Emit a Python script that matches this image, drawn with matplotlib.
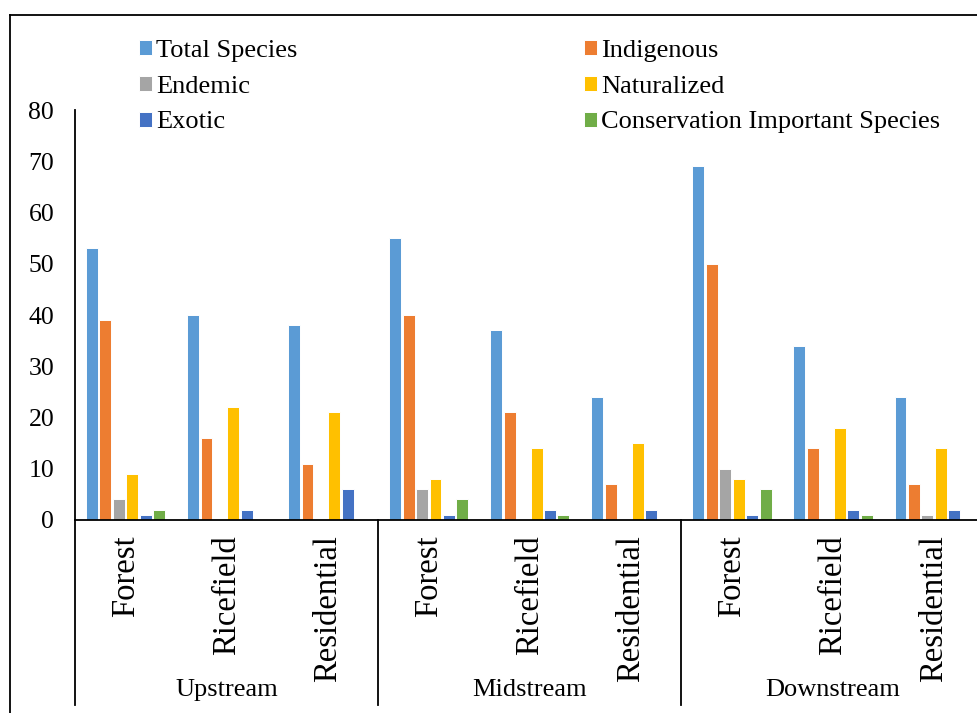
import numpy as np
import matplotlib.pyplot as plt
from matplotlib.lines import Line2D

plt.rcParams['font.family'] = ['Liberation Serif', 'DejaVu Serif']

sites = ['Upstream', 'Midstream', 'Downstream']
habitats = ['Forest', 'Ricefield', 'Residential']
series = ['Total Species', 'Indigenous', 'Endemic', 'Naturalized',
          'Exotic', 'Conservation Important Species']
colors = ['#5B9BD5', '#ED7D31', '#A5A5A5', '#FFC000', '#4472C4', '#70AD47']

# one list per series, order: Up F/R/Res, Mid F/R/Res, Down F/R/Res
total = [53, 40, 38, 55, 37, 24, 69, 34, 24]
indigenous = [39, 16, 11, 40, 21, 7, 50, 14, 7]
endemic = [4, 0, 0, 6, 0, 0, 10, 0, 1]
naturalized = [9, 22, 21, 8, 14, 15, 8, 18, 14]
exotic = [1, 2, 6, 1, 2, 2, 1, 2, 2]
conservation = [2, 0, 0, 4, 1, 0, 6, 1, 0]
values = [total, indigenous, endemic, naturalized, exotic, conservation]

fig = plt.figure(figsize=(9.77, 7.13), dpi=100)
ax = fig.add_axes([0.0768, 0.2707, 0.931, 0.575])

x = np.arange(len(total))
step = 0.133
width = 0.118
bars = []
for i, (name, vals, c) in enumerate(zip(series, values, colors)):
    vals = np.array(vals, dtype=float)
    b = ax.bar(x + (i - 2.5) * step, np.where(vals > 0, vals, np.nan), width,
               color=c, edgecolor='white', linewidth=0.7, label=name)
    bars.append(b)

ax.set_xlim(-0.5, 8.5)
ax.set_ylim(0, 80)
ax.set_yticks(range(0, 81, 10))
ax.tick_params(axis='y', length=0, pad=15, labelsize=18.5)
ax.set_xticks([])
for s in ['top', 'right']:
    ax.spines[s].set_visible(False)
ax.spines['left'].set_linewidth(1.3)
ax.spines['bottom'].set_linewidth(1.3)

# category labels and group separators below the axis
tr = ax.get_xaxis_transform()
for j in range(len(total)):
    ax.text(j, -0.037, habitats[j % 3], transform=tr, rotation=90,
            ha='center', va='top', fontsize=23.5, clip_on=False)
for g, site in enumerate(sites):
    ax.text(3 * g + 1, -0.415, site, transform=tr, ha='center', va='center',
            fontsize=19, clip_on=False)
for xb in [-0.5, 2.5, 5.5, 8.5]:
    ax.add_line(Line2D([xb, xb], [0, -0.451], transform=tr, color='black',
                       lw=1.3, clip_on=False))

# legend laid out row-wise in two columns
order = [0, 2, 4, 1, 3, 5]
fig.legend([bars[k] for k in order], [series[k] for k in order],
           loc='upper left', bbox_to_anchor=(139 / 977, 1 - 40 / 713),
           ncol=2, frameon=False, fontsize=19, borderpad=0, borderaxespad=0,
           handlelength=0.5, handleheight=0.5, handletextpad=0.15,
           labelspacing=0.52, columnspacing=10.85)

# outer chart frame
fig.add_artist(Line2D([10 / 977, 1], [1 - 15 / 713] * 2, color='black', lw=1.3))
fig.add_artist(Line2D([10 / 977] * 2, [0, 1 - 15 / 713], color='black', lw=1.3))

fig.savefig('out.png', dpi=100)
